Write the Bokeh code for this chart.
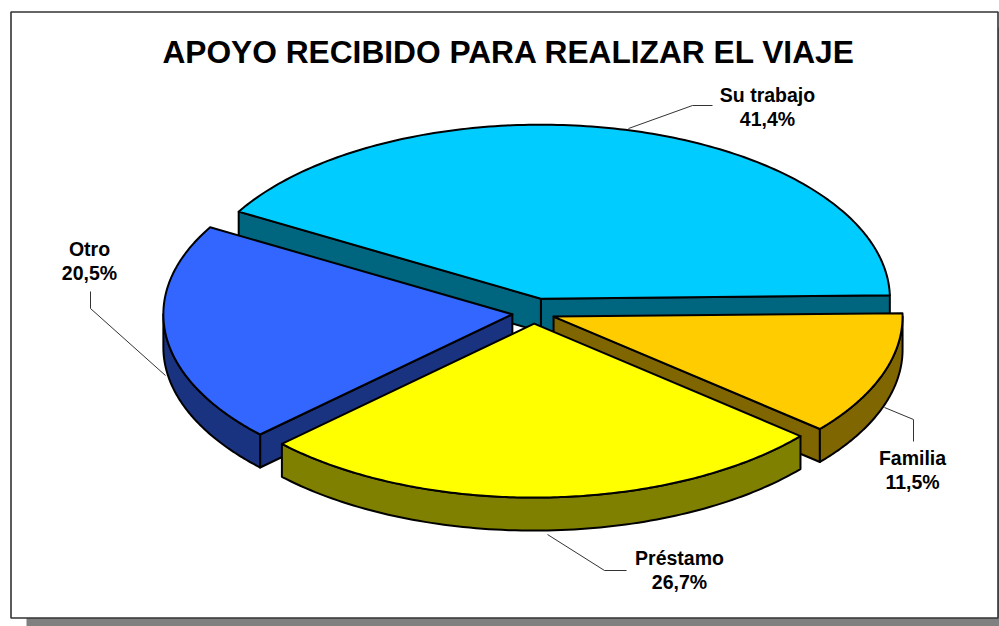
import numpy as np
from bokeh.plotting import figure
from bokeh.models import Range1d
from bokeh.core.properties import value
from bokeh.embed import file_html
from bokeh.resources import INLINE

# --- data -------------------------------------------------------------
categories = ["Su trabajo", "Otro", "Préstamo", "Familia"]
percent = [41.4, 20.5, 26.7, 11.5]
percent_labels = ["41,4%", "20,5%", "26,7%", "11,5%"]
top_colors = ["#00CCFF", "#3366FF", "#FFFF00", "#FFCC00"]
side_colors = ["#006680", "#1A3380", "#808000", "#806600"]
explode = [0.085, 0.061, 0.061, 0.061]
title = "APOYO RECIBIDO PARA REALIZAR EL VIAJE"

# --- layout -----------------------------------------------------------
W, H = 999, 626
CX, CY = 533.0, 312.5
RX, RY = 349.0, 174.0
DEPTH = 33.0
START_ANGLE = 1.1
FONT = value("Liberation Sans")
label_xy = [(767, 106), (89, 260), (679, 569), (912, 469)]
leaders = [
    ([628, 692, 712], [128, 105, 105]),
    ([90, 90, 165], [291, 308, 375]),
    ([547, 604, 626], [534, 570, 570]),
    ([884, 913, 913], [407, 419, 441]),
]

p = figure(width=W, height=H, output_backend="svg", toolbar_location=None,
           x_range=Range1d(0, W), y_range=Range1d(H, 0),
           min_border=0, outline_line_color=None, border_fill_color=None,
           background_fill_color=None)
p.axis.visible = False
p.grid.visible = False

# frame and drop shadow
p.quad(left=26, right=1010, top=27, bottom=640, fill_color="#808080", line_color=None)
p.quad(left=10.5, right=997.5, top=11.5, bottom=617.5, fill_color="#FFFFFF",
       line_color="#333333", line_width=1.6)

p.text(x=[508.5], y=[51], text=[title], text_font=FONT, text_font_style="bold",
       text_font_size="31.7px", text_align="center", text_baseline="middle", text_color="#000000")

# leaders under the pie
for lx, ly in leaders:
    p.line(lx, ly, line_color="#333333", line_width=1)


def rim(ax, ay, t):
    r = np.radians(t)
    return ax + RX * np.cos(r), ay - RY * np.sin(r)


total = sum(percent)
spans = [v / total * 360 for v in percent]
starts = [START_ANGLE + sum(spans[:i]) for i in range(len(spans))]
LW = 2.0

# back to front: Su trabajo, Otro, Familia, Préstamo
for i in [0, 1, 3, 2]:
    t0, t1 = starts[i], starts[i] + spans[i]
    mid = np.radians((t0 + t1) / 2)
    ax = CX + explode[i] * RX * np.cos(mid)
    ay = CY - explode[i] * RY * np.sin(mid)

    # cut faces that look towards the viewer
    for t, normal in ((t0, t0 - 90), (t1, t1 + 90)):
        if np.sin(np.radians(normal)) < 0:
            ex, ey = rim(ax, ay, t)
            p.patch([ax, ex, ex, ax], [ay, ey, ey + DEPTH, ay + DEPTH],
                    fill_color=side_colors[i], line_color="#000000", line_width=LW,
                    line_join="round")

    # outer rim, front half only
    a, b = max(t0, 180), min(t1, 360)
    if b > a:
        ts = np.linspace(a, b, 90)
        xs, ys = rim(ax, ay, ts)
        p.patch(np.r_[xs, xs[::-1]], np.r_[ys, ys[::-1] + DEPTH],
                fill_color=side_colors[i], line_color="#000000", line_width=LW,
                line_join="round")

    # top face
    ts = np.linspace(t0, t1, 160)
    xs, ys = rim(ax, ay, ts)
    p.patch(np.r_[ax, xs], np.r_[ay, ys], fill_color=top_colors[i],
            line_color="#000000", line_width=LW, line_join="round")

for (lx, ly), cat, pct in zip(label_xy, categories, percent_labels):
    p.text(x=[lx, lx], y=[ly - 12, ly + 12], text=[cat, pct], text_font=FONT,
           text_font_style="bold", text_font_size="19.5px", text_align="center",
           text_baseline="middle", text_color="#000000")

open("out.html", "w").write(file_html(p, INLINE))
